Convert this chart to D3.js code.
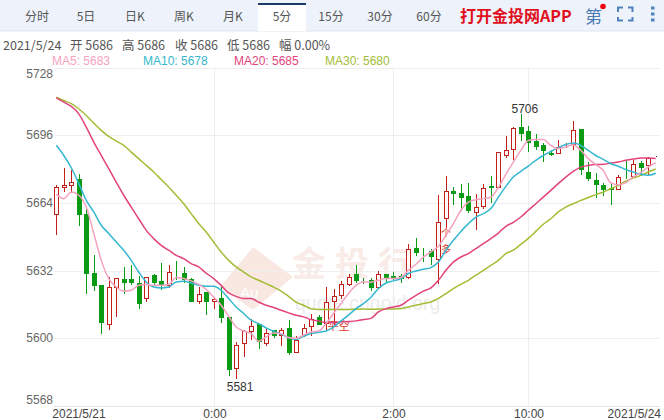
<!DOCTYPE html>
<html><head><meta charset="utf-8">
<script src="https://cdn.jsdelivr.net/npm/d3@7/dist/d3.min.js"></script>
<style>html,body{margin:0;padding:0;background:#fff;overflow:hidden}svg{display:block}text{font-family:"Noto Sans CJK SC","Liberation Sans",sans-serif}</style>
</head><body><svg id="c" width="664" height="420"></svg>
<script>
const opens=[5658.9,5671.3,5672.4,5675.1,5658.9,5630.7,5625,5606.9,5624,5627.9,5627.9,5626,5618.8,5629.8,5626.9,5625,5631.9,5630.7,5627.9,5617.6,5621.7,5617.8,5618.8,5609.8,5585.7,5597.8,5603.4,5606.9,5597.8,5603.8,5601.6,5604.6,5593.7,5601.7,5605.8,5609.8,5607.4,5617.5,5620.6,5625.8,5630.6,5627.6,5627.7,5624,5630.4,5629.4,5629.6,5629,5642.8,5641.8,5641.1,5637.5,5656.8,5669.8,5668.8,5667.1,5659.9,5662.7,5671.9,5671.5,5686.8,5689.6,5700.1,5697.8,5693.1,5691.2,5687.6,5687.7,5691.2,5691.6,5699.1,5678.7,5675,5672.6,5670.9,5670.5,5676.8,5676.9,5683,5682.1,5686];
const closes=[5671.7,5672.3,5674,5658.7,5630.8,5625.2,5607.7,5624.4,5628.7,5626.5,5626.5,5616.7,5629.1,5626.5,5625,5631.5,5631.7,5628,5617.6,5621.1,5617.6,5618.6,5609.8,5585.5,5597,5603.6,5606,5598.6,5602.7,5601.7,5603.8,5593.4,5599.1,5605,5609.1,5606.9,5617.3,5620,5625.4,5629.1,5627.4,5627.4,5624,5630.6,5628.5,5629.1,5628.5,5642.4,5640.6,5641.6,5638.7,5655.1,5669.8,5668.5,5666.8,5660.5,5662.2,5671,5671.7,5688.2,5689.1,5699.2,5697,5692.7,5690.8,5689,5687.2,5690.4,5691.5,5698.6,5680.2,5675.7,5672.9,5670.4,5670.7,5676.4,5676.5,5682.5,5680.9,5685,5686];
const highs=[5672.6,5680.5,5679.4,5677.5,5661.3,5639.5,5625,5629,5628.7,5633.5,5634.5,5629.4,5629.1,5630.6,5635.4,5634.5,5636.4,5633.5,5628.7,5624.2,5621.7,5619.5,5624.2,5609.8,5598.3,5603.8,5609.3,5606.9,5605,5603.8,5604.9,5608.5,5600.9,5606.9,5611.3,5611,5624.2,5623.3,5627.1,5630.6,5634.5,5628.5,5628.7,5631.7,5630.4,5631.3,5630.2,5644.4,5647.6,5642.7,5642.4,5667.6,5676.5,5671.3,5672.7,5673.4,5668.4,5673.1,5676.5,5688.2,5695.4,5699.7,5706,5700.3,5696.4,5692.4,5688.8,5693.5,5692.3,5702.5,5699.1,5683.5,5678.3,5673.2,5673.1,5677.3,5683.6,5684.1,5683.8,5685.5,5686];
const lows=[5649.5,5669.6,5669.1,5653.5,5621.6,5622.7,5602.5,5604.4,5610.4,5621.6,5625.7,5614.5,5617.6,5625.8,5623.3,5624.2,5628.2,5626.6,5617.6,5616.7,5611.5,5614.5,5607.7,5582.5,5581,5591.5,5599.7,5595.6,5596.6,5600.6,5596.6,5592.4,5593.7,5600.9,5601.3,5606.5,5603.8,5606.9,5618.8,5625,5626.6,5626.3,5622.7,5624,5626.5,5627.9,5626.6,5628.7,5639.4,5636.5,5635,5626.1,5652.6,5663.6,5660.8,5659.7,5651.5,5661.6,5664.6,5671.5,5685.5,5684.6,5693.5,5688.7,5689.6,5683.8,5686.4,5687.7,5690.4,5689.6,5677.8,5674.6,5666.9,5667.9,5663.6,5670.5,5675.9,5676.5,5677,5677.5,5686];
const ma5=[5668,5666,5669.1,5667.6,5662,5649.6,5636.8,5628.2,5624.2,5622.3,5622.7,5625,5625.4,5625,5625,5625.4,5628.7,5628.2,5627.1,5625.5,5623.1,5619.5,5615.6,5610.4,5605.3,5603.4,5602.2,5598.6,5600.6,5602.5,5602.2,5600.3,5599.9,5601.4,5603,5603.4,5606.9,5611.7,5616.4,5621.1,5625,5626.6,5626.5,5627.4,5628.2,5628.2,5628.7,5632.1,5635,5638.4,5640.8,5643.5,5648.7,5654.2,5660.5,5664.4,5665.5,5666,5666.7,5671.3,5677.5,5683.3,5688.8,5693.5,5694,5693.9,5691.2,5689.6,5690.4,5691.5,5688.8,5684.9,5682.1,5679.4,5673.4,5672.6,5673.6,5676.2,5678.3,5680.9,5683];
const ma10=[5691.2,5686.4,5680.6,5673.1,5665.2,5659.7,5653.4,5649.5,5645.5,5641.6,5636.8,5631.3,5626.6,5624.2,5623.8,5624.2,5626.6,5626.9,5626.1,5625,5624.6,5624.6,5622.7,5618.8,5614.8,5611.7,5608.5,5606.9,5604.9,5603.3,5601.9,5600.3,5599.4,5600.9,5602.2,5602.8,5603.4,5605.3,5608.2,5610.9,5614,5616.4,5619.4,5623.5,5626.1,5627.1,5628.2,5630.6,5631.8,5632.6,5633.4,5636,5641.6,5646.3,5650.5,5654.2,5657.3,5658.9,5661.3,5666.7,5671.8,5676.2,5678.9,5681.4,5684.1,5686.4,5688.3,5690.1,5691.6,5692.3,5691.2,5688.8,5686.4,5684.6,5682.5,5681.3,5679.8,5678.6,5677.5,5677,5678];
const ma20=[5713.7,5711.6,5709.6,5706.1,5699.8,5692.7,5686.4,5680.2,5673.8,5667.6,5662,5656.5,5651,5647.1,5643.9,5641.6,5639.2,5637.6,5635.3,5633.7,5630.8,5628.2,5625,5621.4,5619.8,5618.8,5618.8,5617.1,5615.6,5614.5,5613.2,5612,5610.9,5610.1,5608.8,5608.2,5607.4,5607.4,5607.7,5607.9,5608.2,5608.8,5609.4,5612.4,5614,5614.8,5615.6,5618,5620.3,5622.3,5623.8,5627.4,5632.1,5636,5638.4,5640,5642.4,5644.7,5647.1,5649.7,5652.9,5654.8,5657.3,5660.5,5663.6,5666.7,5669.9,5673.1,5676.2,5678.9,5680.9,5681.7,5682.1,5682.2,5682.8,5683.3,5684.1,5684.7,5685.2,5685.2,5685];
const ma30=[5714,5712.4,5710.9,5708.5,5705.3,5701.7,5698.3,5695.4,5693.2,5691.2,5688,5684.9,5681.7,5678.6,5675,5671.5,5667.6,5663.6,5658.9,5654.2,5650.2,5645.5,5640.8,5636.8,5633.7,5631.3,5629,5627.4,5625.8,5624.2,5622.3,5619.8,5617.1,5615.6,5614,5613.6,5613.6,5613.6,5613.6,5613.6,5613.7,5613.8,5613.7,5613.8,5613.8,5613.8,5614,5614.8,5615.6,5616.4,5617.1,5618.8,5621.1,5623.5,5625.5,5627.4,5629.8,5632.1,5634.5,5636.8,5640,5641.6,5644.4,5647.2,5650.5,5653.9,5656.5,5659.7,5662,5663.6,5665.2,5666.5,5667.9,5669.1,5670.7,5672.3,5674.2,5675.7,5677,5678.6,5680];
const yTicks=[5728,5696,5664,5632,5600,5568];
const xTickIdx=[21,45,63];
const xTickText=["0:00","2:00","10:00"];
const tabs=["分时","5日","日K","周K","月K","5分","15分","30分","60分"];
const infoParts=["2021/5/24","开 5686","高 5686","收 5686","低 5686","幅 0.00%"];
const maLegend=[["MA5: 5683","#f4a3bf",52],["MA10: 5678","#35b8d0",143],["MA20: 5685","#e2437c",234],["MA30: 5680","#a3bd35",325]];

const svg=d3.select("#c");
const latin='"Liberation Sans",sans-serif';
const x=d3.scaleLinear().domain([0,80]).range([56.3,655.7]);
const y=d3.scaleLinear().domain([5568,5728]).range([405.9,67.5]);
const px=v=>Math.round(x(v));

// tab bar
svg.append("rect").attr("width",664).attr("height",31).attr("fill","#eef3fb");
svg.append("rect").attr("y",30.5).attr("width",664).attr("height",1).attr("fill","#dfe5ee");
svg.append("rect").attr("x",258).attr("y",3).attr("width",48).attr("height",28).attr("fill","#fff");
svg.append("rect").attr("x",258).attr("y",3).attr("width",48).attr("height",2).attr("fill","#1c3a63");
const tabX=d3.scalePoint().domain(tabs).range([37,429]);
svg.selectAll(".tab").data(tabs).join("text").attr("class","tab")
 .attr("x",d=>tabX(d)).attr("y",21).attr("text-anchor","middle").attr("font-size",12).attr("fill","#555").text(d=>d);
svg.append("text").attr("x",460).attr("y",21.5).attr("font-size",16).attr("font-weight",700).attr("fill","#e01020").text("打开金投网APP");
svg.append("text").attr("x",585).attr("y",23).attr("font-size",17).attr("fill","#4a7ab5").text("第");
svg.append("circle").attr("cx",603).attr("cy",6.5).attr("r",2.8).attr("fill","#f00010");
const blue="#4f81bd";
svg.append("path").attr("fill","none").attr("stroke",blue).attr("stroke-width",2)
 .attr("d","M618 12V7.5H623M628 7.5H632.5V12M632.5 17V20.5H628M623 20.5H618V17");
[8,14,20].forEach(c=>svg.append("rect").attr("x",651).attr("y",c-1.5).attr("width",3.5).attr("height",3).attr("fill",blue));

// info line
const infoX=[3,70,122,175,227,279];
svg.selectAll(".info").data(infoParts).join("text").attr("class","info")
 .attr("x",(d,i)=>infoX[i]).attr("y",49.5).attr("font-size",12.5).attr("fill","#555").text(d=>d);
svg.selectAll(".leg").data(maLegend).join("text").attr("class","leg")
 .attr("x",d=>d[2]).attr("y",65).attr("font-size",12).attr("fill",d=>d[1]).text(d=>d[0]).style("font-family",latin);

// watermark
const wm=svg.append("g");
wm.append("path").attr("d","M253 247L293 277L253 310L220 287Z").attr("fill","#f9e7e2");
wm.append("text").attr("x",240).attr("y",298).attr("font-size",15).attr("fill","#fff").text("Au").style("font-family",latin);
["金","投","行"].forEach((c,i)=>wm.append("text").attr("x",292+i*43).attr("y",276).attr("font-size",34).attr("font-weight",700).attr("fill","#f9ebe7").text(c));
wm.append("text").attr("x",295).attr("y",310).attr("font-size",19.5).attr("fill","#ececec").text("quote.cngold.org").style("font-family",latin);

// grid
svg.selectAll(".gy").data(yTicks).join("line").attr("class","gy")
 .attr("x1",54).attr("x2",660).attr("y1",d=>Math.round(y(d))+.5).attr("y2",d=>Math.round(y(d))+.5)
 .attr("stroke",d=>d===5568?"#e4e4e4":"#eeeeee");
svg.selectAll(".gx").data(xTickIdx).join("line").attr("class","gx")
 .attr("x1",d=>px(d)+.5).attr("x2",d=>px(d)+.5).attr("y1",68).attr("y2",406).attr("stroke","#eeeeee");

// y labels
svg.selectAll(".yl").data(yTicks).join("text").attr("class","yl")
 .attr("x",53).attr("text-anchor","end").attr("font-size",12).attr("fill","#666")
 .attr("y",d=>d===5728?77.5:d===5568?404:y(d)+4).text(d=>d).style("font-family",latin);
// x labels
const xl=[[79,"2021/5/21","middle"],...xTickIdx.map((d,i)=>[px(d)+1,xTickText[i],"middle"]),[661,"2021/5/24","end"]];
svg.selectAll(".xl").data(xl).join("text").attr("class","xl")
 .attr("x",d=>d[0]).attr("y",418).attr("text-anchor",d=>d[2]).attr("font-size",12).attr("fill","#444").text(d=>d[1]).style("font-family",latin);

// candles
const UP="#c4201a",DOWN="#0a9a14";
const idx=d3.range(opens.length);
const colr=i=>i===80?"#333":(closes[i]>=opens[i]?UP:DOWN);
const g=svg.append("g");
g.selectAll(".w").data(idx).join("line").attr("class","w")
 .attr("x1",i=>px(i)+.5).attr("x2",i=>px(i)+.5).attr("y1",i=>Math.round(y(highs[i]))).attr("y2",i=>Math.round(y(lows[i]))+1).attr("stroke",colr);
g.selectAll(".b").data(idx).join("rect").attr("class","b")
 .attr("x",i=>px(i)-1.5).attr("width",4)
 .attr("y",i=>Math.round(y(Math.max(opens[i],closes[i])))+.5)
 .attr("height",i=>Math.max(0,Math.round(y(Math.min(opens[i],closes[i])))-Math.round(y(Math.max(opens[i],closes[i])))))
 .attr("fill",i=>i===80?"#333":(closes[i]>=opens[i]?"#fff":DOWN)).attr("stroke",colr);

// annotations under lines
[["平",333,330,11],["空",344,330,11],["个",446,237,10],["多",446,253,10]].forEach(a=>svg.append("text").attr("x",a[1]).attr("y",a[2]).attr("text-anchor","middle").attr("font-size",a[3]).attr("fill","#d9342c").text(a[0]));

// MA lines
const line=d3.line().x((d,i)=>x(i)).y(d=>y(d)).curve(d3.curveMonotoneX);
[[ma30,"#a3bd35"],[ma20,"#e2437c"],[ma10,"#35b8d0"],[ma5,"#f4a3bf"]].forEach(m=>svg.append("path").datum(m[0]).attr("d",line).attr("fill","none").attr("stroke",m[1]).attr("stroke-width",1.5));

// high/low labels
[[62,highs[62],-1.5],[24,lows[24],13]].forEach(d=>svg.append("text").attr("x",x(d[0])+4).attr("y",y(d[1])+d[2]).attr("text-anchor","middle").attr("font-size",12).attr("fill","#333").text(d[1]).style("font-family",latin));
</script></body></html>
